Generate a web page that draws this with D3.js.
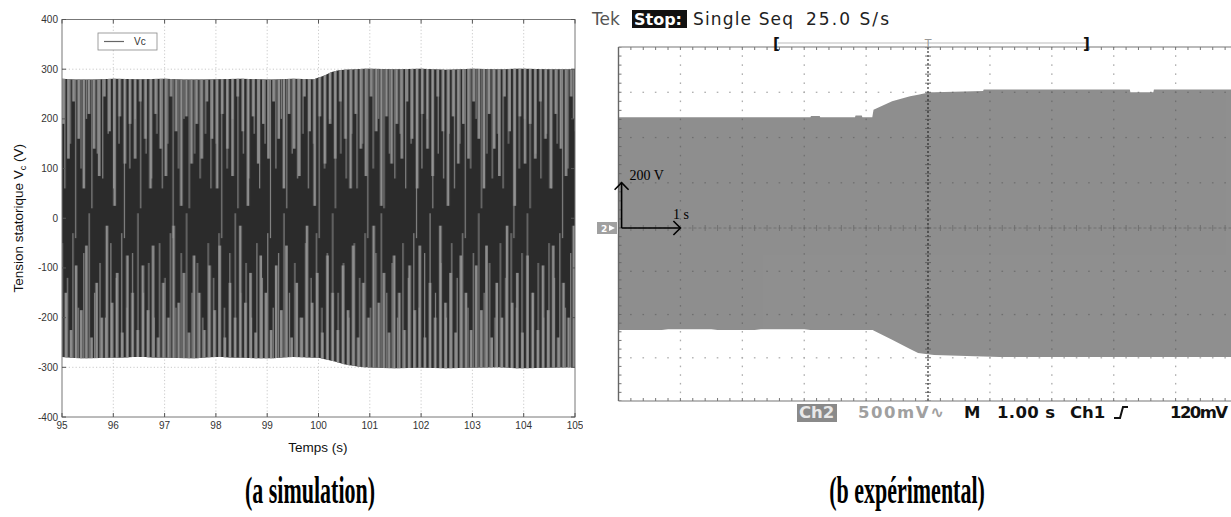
<!DOCTYPE html>
<html><head><meta charset="utf-8">
<script src="https://cdn.jsdelivr.net/npm/d3@7"></script>
<style>
html,body{margin:0;padding:0;background:#fff;}
svg{display:block;}
</style></head>
<body>
<svg id="c" width="1231" height="517"></svg>
<script>
// ---------- DATA: (a) simulation ----------
const simXTicks = [95, 96, 97, 98, 99, 100, 101, 102, 103, 104, 105];
const simYTicks = [-400, -300, -200, -100, 0, 100, 200, 300, 400];
const simUpperT = [95, 95.5, 96, 96.5, 97, 97.5, 98, 98.5, 99, 99.5, 99.9, 100.1, 100.25, 100.4, 100.7, 101, 101.5, 102, 102.5, 103, 103.5, 104, 104.5, 105];
const simUpper  = [281, 279, 281, 280, 281, 279, 280, 281, 279, 281, 280, 287, 294, 298, 300, 301, 300, 301, 299, 301, 300, 301, 300, 300];
const simLowerT = [95, 95.5, 96, 96.5, 97, 97.5, 98, 98.5, 99, 99.5, 100.0, 100.3, 100.6, 100.9, 101.5, 102, 102.5, 103, 103.5, 104, 104.5, 105];
const simLower  = [-279, -282, -281, -279, -281, -282, -279, -281, -282, -279, -281, -288, -296, -300, -302, -301, -302, -301, -300, -302, -301, -300];
const simLegend = ["Vc"];

// ---------- DATA: (b) expérimental (oscilloscope, 1 s/div, 200 V/div) ----------
const scopeDivT = [0, 1, 2, 3, 4, 5, 6, 7, 8, 9, 10];
const scopeDivV = [-4, -3, -2, -1, 0, 1, 2, 3, 4];
const scopeUpperT = [0, 3.1, 3.11, 3.25, 3.26, 3.82, 3.83, 3.93, 3.94, 4.10, 4.12, 4.42, 4.71, 5.03, 5.89, 5.90, 8.26, 8.27, 8.64, 8.65, 10];
const scopeUpper  = [489, 489, 495, 495, 489, 489, 497, 497, 489, 489, 523, 560, 582, 600, 605, 612, 612, 600, 600, 612, 612];
const scopeLowerT = [0, 0.7, 0.8, 1.5, 1.6, 2.2, 2.3, 3.0, 3.1, 4.11, 4.84, 5.1, 6.16, 10];
const scopeLower  = [-472, -472, -468, -468, -472, -472, -468, -468, -472, -472, -578, -587, -597, -597];
const captions = ["(a simulation)", "(b expérimental)"];

const svg = d3.select("#c");
const defs = svg.append("defs");
const sans = "Liberation Sans, Arial, sans-serif";

// ================= LEFT PANEL =================
const L = {x0: 62, x1: 575, y0: 19.5, y1: 417};
const xs = d3.scaleLinear().domain([95, 105]).range([L.x0, L.x1]);
const ys = d3.scaleLinear().domain([-400, 400]).range([L.y1, L.y0]);

defs.append("clipPath").attr("id", "leftClip").append("rect")
  .attr("x", 0).attr("y", 0).attr("width", 583).attr("height", 517);
const left = svg.append("g").attr("clip-path", "url(#leftClip)");

// grid
left.append("g").selectAll("line").data(simXTicks.slice(1, -1)).join("line")
  .attr("x1", d => xs(d)).attr("x2", d => xs(d)).attr("y1", L.y0).attr("y2", L.y1)
  .attr("stroke", "#bdbdbd").attr("stroke-width", 0.8).attr("stroke-dasharray", "1.2,2.2");
left.append("g").selectAll("line").data(simYTicks.slice(1, -1)).join("line")
  .attr("y1", d => ys(d)).attr("y2", d => ys(d)).attr("x1", L.x0).attr("x2", L.x1)
  .attr("stroke", "#bdbdbd").attr("stroke-width", 0.8).attr("stroke-dasharray", "1.2,2.2");

// envelope band
const interp = (T, V) => (t) => {
  for (let i = 0; i < T.length - 1; i++) {
    if (t >= T[i] && t <= T[i + 1]) {
      const f = (t - T[i]) / (T[i + 1] - T[i]);
      return V[i] + f * (V[i + 1] - V[i]);
    }
  }
  return V[V.length - 1];
};
const upI = interp(simUpperT, simUpper), loI = interp(simLowerT, simLower);
const allT = Array.from(new Set(simUpperT.concat(simLowerT))).sort((a, b) => a - b);
const band = allT.map(t => ({t, hi: upI(t), lo: loI(t)}));
const simArea = d3.area().x(d => xs(d.t)).y0(d => ys(d.lo)).y1(d => ys(d.hi)).curve(d3.curveMonotoneX);
defs.append("clipPath").attr("id", "bandClip").append("path").attr("d", simArea(band));

// aliasing texture of the dense waveform (style only): streak tiles reaching inward from the envelope
const texA = {id: "texA", step: 5.13, w: 2.6, col: "#8d8d8d",
  top: [190, 120, 235, 160, 60, 210, 140, 85, 245, 175, 25, 205, 110],
  bot: [-150, -225, -95, -185, -55, -240, -130, -200, -15, -170, -110, -230, -75]};
const texB = {id: "texB", step: 5.41, w: 1.2, col: "#999999",
  top: [60, 150, -40, 100, 200, 20, 130, 80, 170],
  bot: [-120, -30, -180, -70, 10, -150, -90, -200, -50]};
[texA, texB].forEach((tx, k) => {
  const n = tx.top.length;
  const p = defs.append("pattern").attr("id", tx.id).attr("patternUnits", "userSpaceOnUse")
    .attr("x", L.x0 + k * 2.3).attr("y", 0).attr("width", tx.step * n).attr("height", 517);
  tx.top.forEach((v, i) => p.append("rect").attr("x", i * tx.step).attr("y", ys(320))
    .attr("width", tx.w).attr("height", ys(v) - ys(320)).attr("fill", tx.col));
  tx.bot.forEach((v, i) => p.append("rect").attr("x", i * tx.step + tx.step / 2).attr("y", ys(v))
    .attr("width", tx.w).attr("height", ys(-320) - ys(v)).attr("fill", tx.col));
});

const bandG = left.append("g").attr("clip-path", "url(#bandClip)");
const bRect = () => bandG.append("rect").attr("x", L.x0).attr("y", L.y0).attr("width", L.x1 - L.x0).attr("height", L.y1 - L.y0);
bRect().attr("fill", "#2b2b2b");
bRect().attr("fill", "url(#texA)");
bRect().attr("fill", "url(#texB)").attr("opacity", 0.8);

// axes box
left.append("rect").attr("x", L.x0).attr("y", L.y0).attr("width", L.x1 - L.x0).attr("height", L.y1 - L.y0)
  .attr("fill", "none").attr("stroke", "#777").attr("stroke-width", 1);

// inward ticks
const tk = 4;
simXTicks.forEach(d => {
  left.append("line").attr("x1", xs(d)).attr("x2", xs(d)).attr("y1", L.y1).attr("y2", L.y1 - tk).attr("stroke", "#555");
  left.append("line").attr("x1", xs(d)).attr("x2", xs(d)).attr("y1", L.y0).attr("y2", L.y0 + tk).attr("stroke", "#555");
});
simYTicks.forEach(d => {
  left.append("line").attr("y1", ys(d)).attr("y2", ys(d)).attr("x1", L.x0).attr("x2", L.x0 + tk).attr("stroke", "#555");
  left.append("line").attr("y1", ys(d)).attr("y2", ys(d)).attr("x1", L.x1).attr("x2", L.x1 - tk).attr("stroke", "#555");
});

// tick labels
left.append("g").selectAll("text").data(simXTicks).join("text")
  .attr("x", d => xs(d)).attr("y", L.y1 + 12).attr("text-anchor", "middle")
  .attr("font-family", sans).attr("font-size", 10).attr("fill", "#333").text(d => d);
left.append("g").selectAll("text").data(simYTicks).join("text")
  .attr("x", L.x0 - 4).attr("y", d => ys(d) + 3.5).attr("text-anchor", "end")
  .attr("font-family", sans).attr("font-size", 10).attr("fill", "#333").text(d => d);

// axis titles
left.append("text").attr("x", 318).attr("y", 452).attr("text-anchor", "middle")
  .attr("font-family", sans).attr("font-size", 13.5).attr("fill", "#111").text("Temps (s)");
const yl = left.append("text").attr("transform", `translate(23,${(L.y0 + L.y1) / 2}) rotate(-90)`)
  .attr("text-anchor", "middle").attr("font-family", sans).attr("font-size", 13.5).attr("fill", "#111");
yl.append("tspan").text("Tension statorique V");
yl.append("tspan").attr("font-size", 9).attr("dy", 3).text("c");
yl.append("tspan").attr("dy", -3).text(" (V)");

// legend
const lg = left.append("g");
lg.append("rect").attr("x", 98).attr("y", 33).attr("width", 59).attr("height", 17)
  .attr("fill", "#fff").attr("stroke", "#888").attr("stroke-width", 0.8);
lg.append("line").attr("x1", 104).attr("x2", 124).attr("y1", 41.5).attr("y2", 41.5).attr("stroke", "#666").attr("stroke-width", 1.2);
lg.append("text").attr("x", 134).attr("y", 45).attr("font-family", sans).attr("font-size", 10).attr("fill", "#333").text(simLegend[0]);

// ================= RIGHT PANEL (oscilloscope) =================
const R = {x0: 618.5, yTop: 47, yMid: 228, yBot: 401};
const ts = d3.scaleLinear().domain([0, 10]).range([R.x0, R.x0 + 619]);
const vs = d3.scaleLinear().domain([-4, 0, 4]).range([R.yBot, R.yMid, R.yTop]);
const vV = v => vs(v / 200);

defs.append("clipPath").attr("id", "scopeClip").append("rect")
  .attr("x", R.x0).attr("y", R.yTop).attr("width", 1231 - R.x0).attr("height", R.yBot - R.yTop);
const right = svg.append("g");
const sc = right.append("g").attr("clip-path", "url(#scopeClip)");

const su = interp(scopeUpperT, scopeUpper), sl = interp(scopeLowerT, scopeLower);
const sAllT = Array.from(new Set(scopeUpperT.concat(scopeLowerT))).sort((a, b) => a - b);
const sBand = sAllT.map(t => ({t, hi: su(t), lo: sl(t)}));
sc.append("path").attr("d", d3.area().x(d => ts(d.t)).y0(d => vV(d.lo)).y1(d => vV(d.hi))(sBand))
  .attr("fill", "#8f8f8f");

// dotted graticule
const gdots = sc.append("g").attr("fill", "#4a4a4a").attr("opacity", 0.45);
scopeDivT.slice(1, -1).forEach(k => {
  if (k === 5) return;
  d3.range(-4, 4.001, 0.2).forEach(v => {
    gdots.append("rect").attr("x", ts(k) - 0.6).attr("y", vs(v) - 0.8).attr("width", 1.3).attr("height", 1.6);
  });
});
scopeDivV.slice(1, -1).forEach(k => {
  if (k === 0) return;
  d3.range(0, 10.001, 0.2).forEach(t => {
    gdots.append("rect").attr("x", ts(t) - 0.8).attr("y", vs(k) - 0.6).attr("width", 1.6).attr("height", 1.3);
  });
});
sc.append("line").attr("x1", R.x0).attr("x2", 1231).attr("y1", R.yMid).attr("y2", R.yMid)
  .attr("stroke", "#6a6a6a").attr("stroke-width", 0.8).attr("stroke-dasharray", "3,2");
d3.range(0, 10.001, 0.2).forEach(t => {
  sc.append("line").attr("x1", ts(t)).attr("x2", ts(t)).attr("y1", R.yMid - 3).attr("y2", R.yMid + 3)
    .attr("stroke", "#6a6a6a").attr("stroke-width", 0.8);
});
sc.append("line").attr("x1", ts(5)).attr("x2", ts(5)).attr("y1", R.yTop).attr("y2", R.yBot)
  .attr("stroke", "#222").attr("stroke-width", 1.1).attr("stroke-dasharray", "2,2");
d3.range(-4, 4.001, 0.2).forEach(v => {
  sc.append("line").attr("x1", ts(5) - 3).attr("x2", ts(5) + 3).attr("y1", vs(v)).attr("y2", vs(v))
    .attr("stroke", "#555").attr("stroke-width", 0.8);
});
d3.range(0, 10.001, 0.2).forEach(t => {
  sc.append("line").attr("x1", ts(t)).attr("x2", ts(t)).attr("y1", R.yTop).attr("y2", R.yTop + 3).attr("stroke", "#666").attr("stroke-width", 0.9);
  sc.append("line").attr("x1", ts(t)).attr("x2", ts(t)).attr("y1", R.yBot).attr("y2", R.yBot - 3).attr("stroke", "#666").attr("stroke-width", 0.9);
});
d3.range(-4, 4.001, 0.2).forEach(v => {
  sc.append("line").attr("x1", R.x0).attr("x2", R.x0 + 3).attr("y1", vs(v)).attr("y2", vs(v)).attr("stroke", "#666").attr("stroke-width", 0.9);
});
right.append("line").attr("x1", R.x0).attr("x2", R.x0).attr("y1", R.yTop).attr("y2", R.yBot).attr("stroke", "#666").attr("stroke-width", 1.4);
right.append("line").attr("x1", R.x0).attr("x2", 1231).attr("y1", R.yTop).attr("y2", R.yTop).attr("stroke", "#777").attr("stroke-width", 1.2);
right.append("line").attr("x1", R.x0).attr("x2", 1231).attr("y1", R.yBot).attr("y2", R.yBot).attr("stroke", "#777").attr("stroke-width", 1.2);

// scale arrows
const arr = right.append("g").attr("stroke", "#000").attr("stroke-width", 1.6).attr("fill", "none");
arr.append("line").attr("x1", ts(0.05)).attr("x2", ts(0.05)).attr("y1", vs(0)).attr("y2", vs(1));
arr.append("path").attr("d", `M${ts(0.05) - 7},${vs(1) + 7} L${ts(0.05)},${vs(1)} L${ts(0.05) + 7},${vs(1) + 7}`);
arr.append("line").attr("x1", ts(0.05)).attr("x2", ts(1)).attr("y1", vs(0)).attr("y2", vs(0));
arr.append("path").attr("d", `M${ts(1) - 7},${vs(0) - 7} L${ts(1)},${vs(0)} L${ts(1) - 7},${vs(0) + 7}`);
right.append("text").attr("x", ts(0.05) + 8).attr("y", vs(1.05)).attr("font-family", "Liberation Serif, Times New Roman, serif")
  .attr("font-size", 14).attr("fill", "#000").text("200 V");
right.append("text").attr("x", ts(0.88)).attr("y", vs(0.2)).attr("font-family", "Liberation Serif, Times New Roman, serif")
  .attr("font-size", 14).attr("fill", "#000").text("1 s");

// ground marker
right.append("rect").attr("x", 597).attr("y", R.yMid - 6).attr("width", 20).attr("height", 12).attr("fill", "#a0a0a0");
right.append("text").attr("x", 601).attr("y", R.yMid + 4).attr("font-family", "DejaVu Sans, sans-serif").attr("font-size", 9)
  .attr("font-weight", "bold").attr("fill", "#fff").text("2");
right.append("path").attr("d", `M609,${R.yMid - 3} L615,${R.yMid} L609,${R.yMid + 3} Z`).attr("fill", "#fff");

// top status line
const topF = "DejaVu Sans, Verdana, sans-serif";
const ty = 25, tfs = 17;
right.append("text").attr("x", 592).attr("y", ty).attr("font-family", topF).attr("font-size", tfs).attr("fill", "#555").text("Tek");
right.append("rect").attr("x", 632).attr("y", ty - 15).attr("width", 55).attr("height", 18).attr("fill", "#111");
right.append("text").attr("x", 634).attr("y", ty).attr("font-family", topF).attr("font-size", tfs - 1).attr("font-weight", "bold").attr("fill", "#fff").text("Stop:");
right.append("text").attr("x", 693).attr("y", ty).attr("font-family", topF).attr("font-size", tfs).attr("fill", "#222").attr("textLength", 100).text("Single Seq");
right.append("text").attr("x", 806).attr("y", ty).attr("font-family", topF).attr("font-size", tfs).attr("fill", "#222").attr("textLength", 83).text("25.0 S/s");
right.append("line").attr("x1", 778).attr("x2", 1086).attr("y1", 43).attr("y2", 43).attr("stroke", "#bbb").attr("stroke-width", 1);
right.append("text").attr("x", 773).attr("y", 49).attr("font-family", topF).attr("font-size", 15).attr("font-weight", "bold").attr("fill", "#111").text("[");
right.append("text").attr("x", 1083).attr("y", 49).attr("font-family", topF).attr("font-size", 15).attr("font-weight", "bold").attr("fill", "#111").text("]");
right.append("text").attr("x", ts(5)).attr("y", 47).attr("text-anchor", "middle").attr("font-family", topF).attr("font-size", 11).attr("fill", "#999").text("T");

// bottom status line
const by = 418, bfs = 16.5;
right.append("rect").attr("x", 797).attr("y", by - 14).attr("width", 40).attr("height", 18).attr("fill", "#8a8a8a");
right.append("text").attr("x", 799).attr("y", by).attr("font-family", topF).attr("font-size", bfs).attr("font-weight", "bold").attr("fill", "#e8e8e8").text("Ch2");
right.append("text").attr("x", 858).attr("y", by).attr("font-family", topF).attr("font-size", bfs).attr("font-weight", "bold").attr("fill", "#a0a0a0").attr("textLength", 86).text("500mV\u223F");
right.append("text").attr("x", 964).attr("y", by).attr("font-family", topF).attr("font-size", bfs).attr("font-weight", "bold").attr("fill", "#111").text("M");
right.append("text").attr("x", 997).attr("y", by).attr("font-family", topF).attr("font-size", bfs).attr("font-weight", "bold").attr("fill", "#111").attr("textLength", 58).text("1.00 s");
right.append("text").attr("x", 1070).attr("y", by).attr("font-family", topF).attr("font-size", bfs).attr("font-weight", "bold").attr("fill", "#111").text("Ch1");
right.append("path").attr("d", `M1114,${by} L1120,${by} L1123,${by - 11} L1128,${by - 11}`).attr("stroke", "#111").attr("stroke-width", 2).attr("fill", "none");
right.append("text").attr("x", 1170).attr("y", by).attr("font-family", topF).attr("font-size", bfs).attr("font-weight", "bold").attr("fill", "#111").attr("textLength", 58).text("120mV");

// ================= CAPTIONS =================
[[310, captions[0]], [907, captions[1]]].forEach(([cx, t]) => {
  svg.append("text").attr("transform", `translate(${cx},503) scale(1,1.75)`).attr("text-anchor", "middle")
    .attr("font-family", "Liberation Serif, Times New Roman, serif").attr("font-weight", "bold")
    .attr("font-size", 22).attr("fill", "#000").text(t);
});
</script>
</body></html>
